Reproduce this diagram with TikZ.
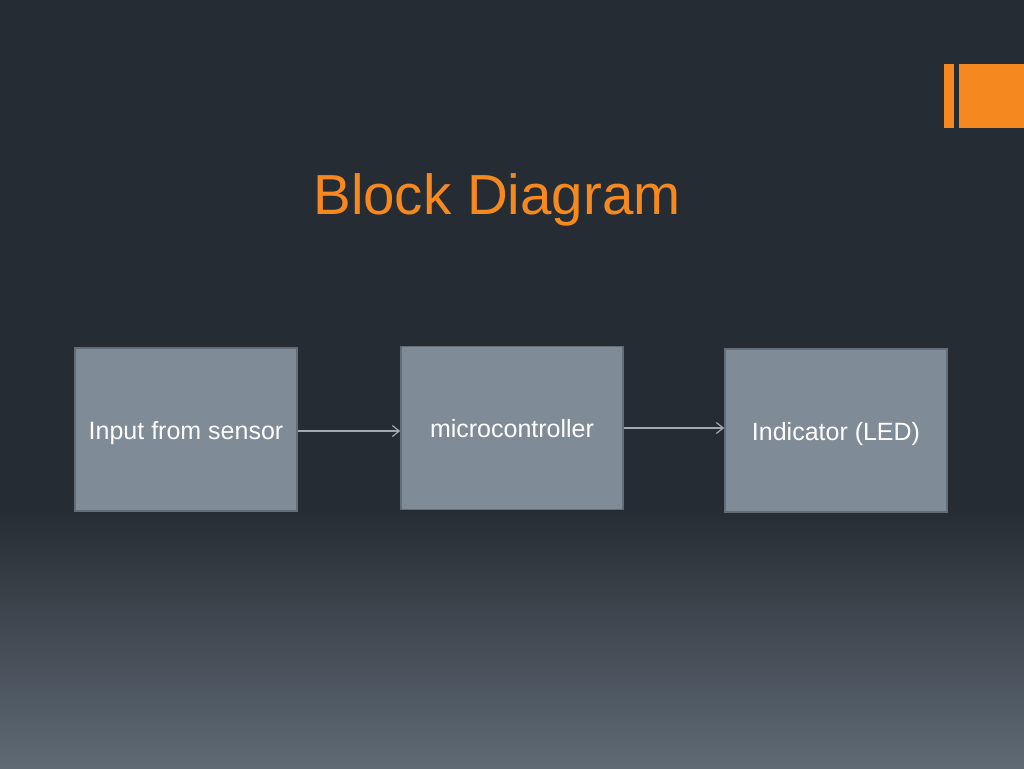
\documentclass[tikz,border=0pt]{standalone}
\usepackage{fontspec}
\setmainfont{Liberation Sans}
\usetikzlibrary{arrows.meta}

\definecolor{bgdark}{HTML}{262C33}
\definecolor{bglight}{HTML}{5F6A75}
\definecolor{boxfill}{HTML}{808B98}
\definecolor{boxline}{HTML}{636D78}
\definecolor{titleorange}{HTML}{F5891F}
\definecolor{arrowgray}{HTML}{A0A8B2}

\tikzset{
  block/.style={draw=boxline, line width=1.5pt, fill=boxfill, text=white,
    minimum width=222pt, minimum height=163pt, inner sep=0pt,
    text height=19pt, text depth=0pt,
    font=\fontsize{25}{30}\selectfont},
  link/.style={-{Straight Barb[length=7pt,width=11pt]}, draw=arrowgray, line width=1.2pt}
}

\begin{document}
\begin{tikzpicture}[x=1pt, y=-1pt]

% Draw the background
\fill[bgdark] (0,0) rectangle (1024,510);
\shade[top color=bgdark, bottom color=bglight] (0,509) rectangle (1024,768);
\useasboundingbox (0,0) rectangle (1024,768);

% Draw the logo bars
\fill[titleorange] (944,64) rectangle (954,128);
\fill[titleorange] (959,64) rectangle (1024,128);

% Draw the title
\node[text=titleorange, font=\fontsize{56.5}{64}\selectfont] (title) at (497,200) {Block Diagram};

% Draw the blocks
\node[block] (sensor) at (186,429.5) {Input from sensor};
\node[block] (mcu) at (512,428) {microcontroller};
\node[block] (led) at (836,430.5) {Indicator (LED)};

% Draw the links
\draw[link] (sensor.east |- 0,431) -- (mcu.west |- 0,431);
\draw[link] (mcu.east) -- (led.west |- mcu.east);

\end{tikzpicture}
\end{document}
